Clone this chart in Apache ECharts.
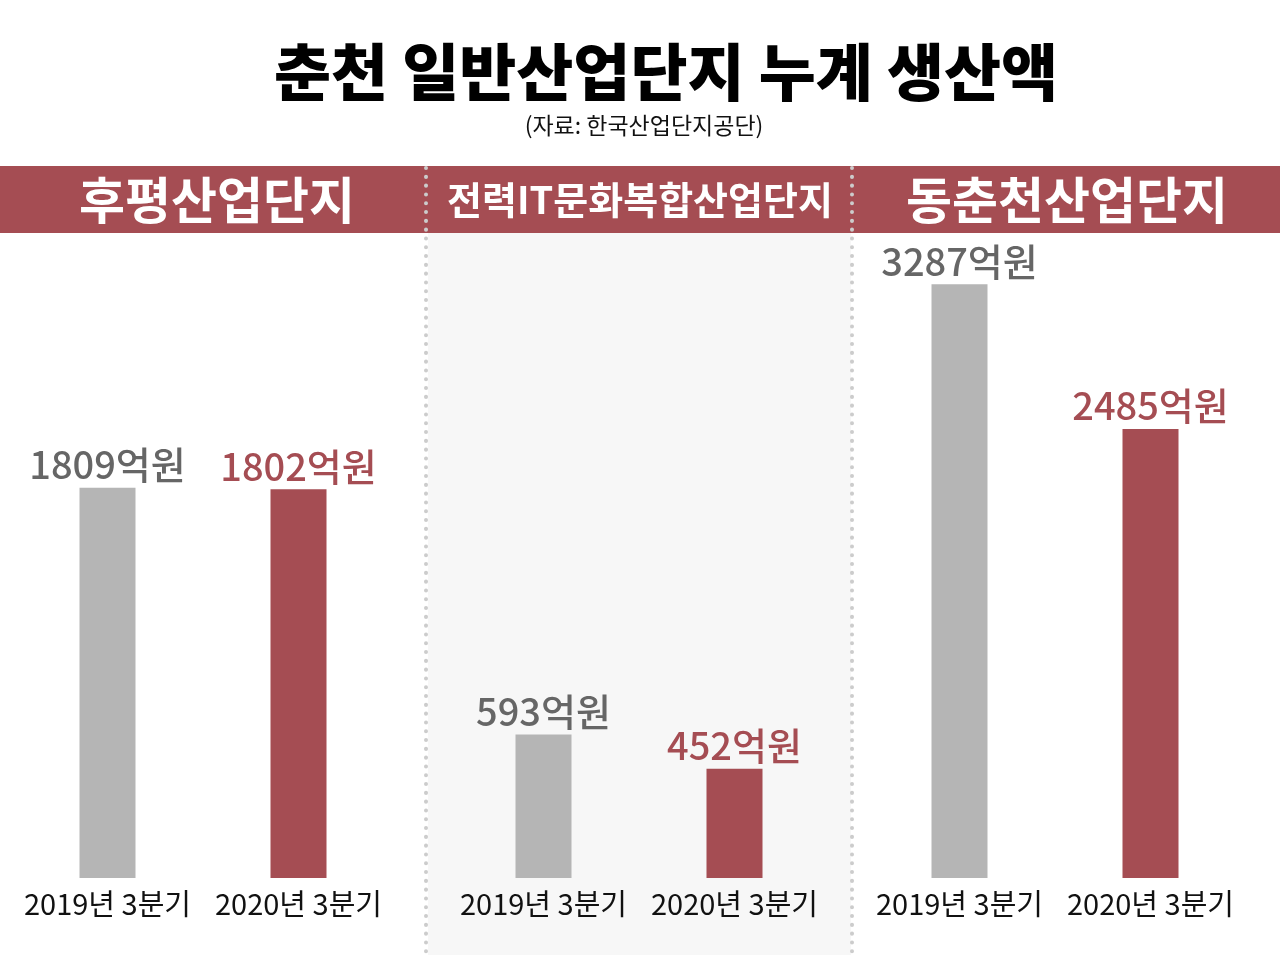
<!DOCTYPE html>
<html><head><meta charset="utf-8">
<script src="https://cdn.jsdelivr.net/npm/echarts@6/dist/echarts.min.js"></script>
<style>html,body{margin:0;padding:0;background:#fff}#c{width:1280px;height:955px}</style>
</head><body><div id="c"></div>
<script>
const parks = ['후평산업단지', '전력IT문화복합산업단지', '동춘천산업단지'];
const periods = ['2019년 3분기', '2020년 3분기'];
const values2019 = [1809, 593, 3287];
const values2020 = [1802, 452, 2485];
const unit = '억원';
const titleText = '춘천 일반산업단지 누계 생산액';
const sourceText = '(자료: 한국산업단지공단)';

const FONT = '"Noto Sans CJK KR", "Noto Sans", sans-serif';
const RED = '#a54d53';
const GRAY_BAR = '#b5b5b5';
const GRAY_TXT = '#666666';
const panelMax = [2990, 2666, 3570];
const gridLeft = [12, 448, 864];
const headerX = [217, 640, 1067];
const headerSize = [50, 38, 50];

const chart = echarts.init(document.getElementById('c'), null, {renderer: 'canvas'});

const grids = [], xAxes = [], yAxes = [], series = [];
parks.forEach((p, i) => {
  grids.push({left: gridLeft[i], width: 382, top: 233, bottom: 77, containLabel: false});
  xAxes.push({
    type: 'category', gridIndex: i, data: periods,
    axisLine: {show: false}, axisTick: {show: false},
    axisLabel: {interval: 0, fontSize: 29, color: '#111', fontFamily: FONT, margin: 11}
  });
  yAxes.push({type: 'value', gridIndex: i, min: 0, max: panelMax[i], show: false, splitLine: {show: false}});
  series.push({
    type: 'bar', xAxisIndex: i, yAxisIndex: i, barWidth: 56,
    data: [
      {value: values2019[i], itemStyle: {color: GRAY_BAR},
       label: {color: GRAY_TXT}},
      {value: values2020[i], itemStyle: {color: RED},
       label: {color: RED}}
    ],
    label: {
      show: true, position: 'top', distance: 4,
      fontSize: 38, fontWeight: 500, fontFamily: FONT,
      formatter: (d) => d.value + unit
    },
    silent: true, animation: false
  });
});

const graphics = [
  {type: 'rect', shape: {x: 428, y: 233, width: 423, height: 722}, style: {fill: '#f7f7f7'}, z: -10},
  {type: 'rect', shape: {x: 0, y: 166, width: 1280, height: 67}, style: {fill: RED}, z: -5},
  {type: 'text', x: 666, y: 72, style: {text: titleText, font: `900 62px ${FONT}`, fill: '#000', textAlign: 'center', textVerticalAlign: 'middle'}},
  {type: 'text', x: 644, y: 125, style: {text: sourceText, font: `400 23px ${FONT}`, fill: '#111', textAlign: 'center', textVerticalAlign: 'middle'}}
];
parks.forEach((p, i) => {
  graphics.push({type: 'text', x: headerX[i], y: 200, z: 5,
    style: {text: p, font: `700 ${headerSize[i]}px ${FONT}`, fill: '#fff', textAlign: 'center', textVerticalAlign: 'middle'}});
});
[426, 852].forEach(x => {
  graphics.push({type: 'line', z: 3, shape: {x1: x, y1: 168, x2: x, y2: 955},
    style: {stroke: '#cccccc', lineWidth: 4, lineDash: [0.1, 8.7], lineCap: 'round'}});
});

chart.setOption({
  animation: false,
  backgroundColor: '#ffffff',
  grid: grids, xAxis: xAxes, yAxis: yAxes, series: series,
  graphic: graphics
});
</script></body></html>
